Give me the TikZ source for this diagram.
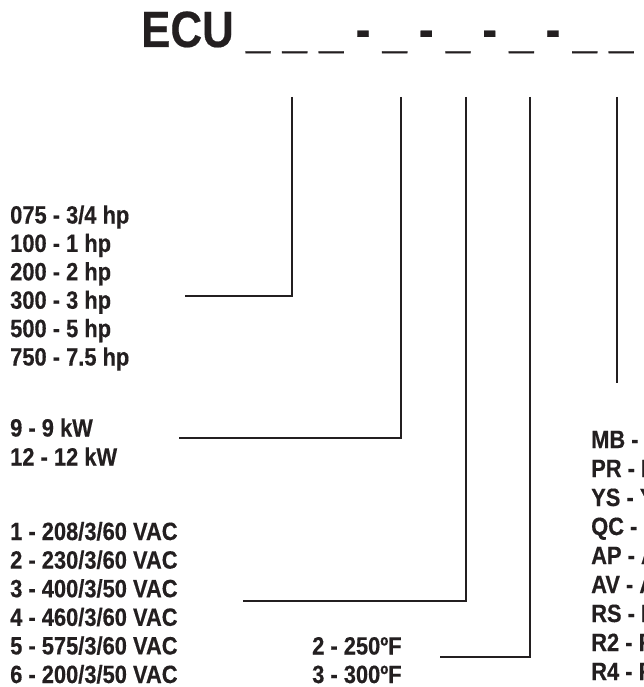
\documentclass[tikz,border=0pt]{standalone}
\usepackage{fontspec}
\newfontfamily\labfont[FakeStretch=0.875,FakeBold=0.4]{Liberation Sans}
\newfontfamily\titlefont[FakeStretch=0.86,FakeBold=0.4]{Liberation Sans}
\definecolor{ink}{HTML}{231F20}
\begin{document}
\begin{tikzpicture}[x=1pt,y=-1pt,
  lab/.style={font=\labfont\bfseries\fontsize{25}{28}\selectfont, text=ink, inner sep=0pt, anchor=base west},
  conn/.style={draw=ink, line width=1.6pt}]
\useasboundingbox (0,0) rectangle (644,687);
\node[font=\titlefont\bfseries\fontsize{51}{51}\selectfont, text=ink, inner sep=0pt, anchor=base west] (title) at (141,47) {ECU \_ \_ \_ - \_ - \_ - \_ - \_ \_};
% horsepower
\foreach \t [count=\i] in {075 - 3/4 hp,100 - 1 hp,200 - 2 hp,300 - 3 hp,500 - 5 hp,750 - 7.5 hp}
  \node[lab] (hp\i) at (10,{223.5+28.4*(\i-1)}) {\t};
% kW
\node[lab] (kw1) at (10,436.5) {9 - 9 kW};
\node[lab] (kw2) at (10,465.5) {12 - 12 kW};
% voltage
\foreach \t [count=\i] in {1 - 208/3/60 VAC,2 - 230/3/60 VAC,3 - 400/3/50 VAC,4 - 460/3/60 VAC,5 - 575/3/60 VAC,6 - 200/3/50 VAC}
  \node[lab] (v\i) at (10,{540+28.6*(\i-1)}) {\t};
% temperature
\node[lab] (tp1) at (312,654.5) {2 - 250ºF};
\node[lab] (tp2) at (312,683) {3 - 300ºF};
% options (cut off by the right edge, as in the reference)
\foreach \t [count=\i] in {MB -,PR - P,YS - Y,QC - C,AP - A,AV - A,RS - R,R2 - F,R4 - F}
  \node[lab] (op\i) at (591,{448+29*(\i-1)}) {\t};
% connectors
\coordinate (a1) at (292,97);  \coordinate (b1) at (185,296);
\coordinate (a2) at (401,97);  \coordinate (b2) at (179,438);
\coordinate (a3) at (466,97);  \coordinate (b3) at (243,601);
\coordinate (a4) at (530,97);  \coordinate (b4) at (440,657);
\coordinate (a5) at (617,97);  \coordinate (b5) at (617,383);
\draw[conn] (a1) |- (b1);
\draw[conn] (a2) |- (b2);
\draw[conn] (a3) |- (b3);
\draw[conn] (a4) |- (b4);
\draw[conn] (a5) -- (b5);
\end{tikzpicture}
\end{document}
